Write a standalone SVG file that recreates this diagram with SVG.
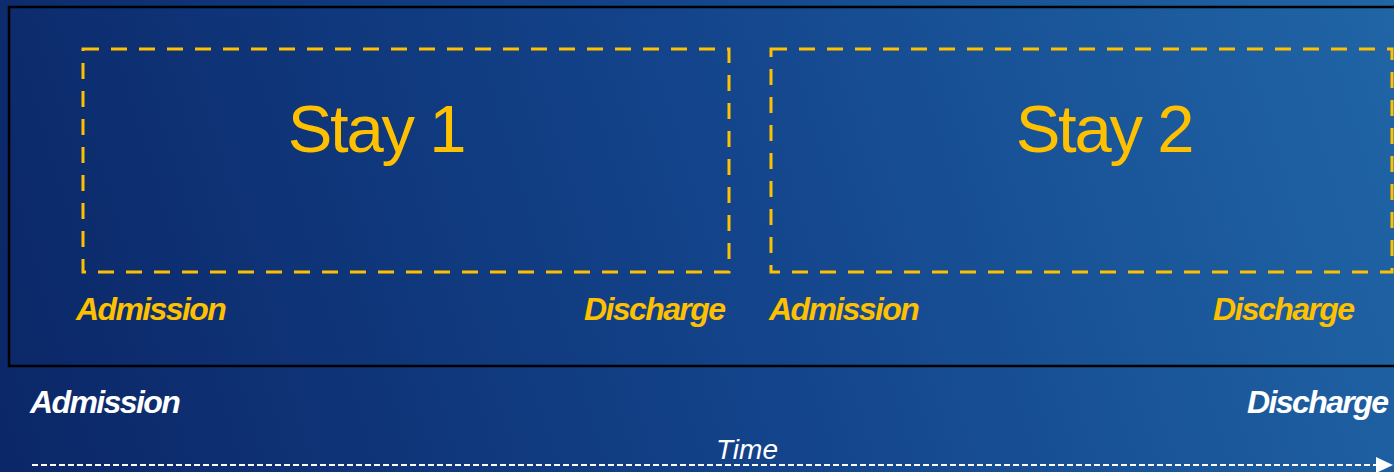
<svg xmlns="http://www.w3.org/2000/svg" width="1394" height="472" viewBox="0 0 1394 472">
<defs>
<linearGradient id="bg" gradientUnits="userSpaceOnUse" x1="0" y1="420" x2="1394" y2="0">
<stop offset="0" stop-color="#0b2767"/>
<stop offset="0.5" stop-color="#13438a"/>
<stop offset="1" stop-color="#2065a6"/>
</linearGradient>
<style>
.stay{fill:none;stroke:#ffc000;stroke-width:3;stroke-dasharray:16 12}
.big{font-family:"Liberation Sans",Arial,sans-serif;font-size:67px;fill:#ffc000;text-anchor:middle;letter-spacing:-2.2px}
.lbl{font-family:"Liberation Sans",Arial,sans-serif;font-size:32px;font-weight:bold;font-style:italic;letter-spacing:-1.6px}
.y{fill:#ffc000}
.w{fill:#ffffff}
</style>
</defs>
<rect x="0" y="0" width="1394" height="472" fill="url(#bg)"/>
<rect x="9" y="7" width="1400" height="359" fill="none" stroke="#000000" stroke-width="2.5"/>
<g id="stay1">
<rect class="stay" x="83" y="49" width="646" height="223"/>
<text class="big" x="376" y="152">Stay 1</text>
<text class="lbl y" x="76" y="320">Admission</text>
<text class="lbl y" x="584" y="320">Discharge</text>
</g>
<g id="stay2">
<rect class="stay" x="771" y="49" width="621" height="223"/>
<text class="big" x="1104" y="152">Stay 2</text>
<text class="lbl y" x="769" y="320">Admission</text>
<text class="lbl y" x="1213" y="320">Discharge</text>
</g>
<g id="overall">
<text class="lbl w" x="30" y="413">Admission</text>
<text class="lbl w" x="1247" y="413">Discharge</text>
<text x="747" y="459" font-family="Liberation Sans, Arial, sans-serif" font-size="28" font-style="italic" fill="#ffffff" text-anchor="middle">Time</text>
</g>
<g id="connectors">
<line x1="32" y1="465" x2="1378" y2="465" stroke="#ffffff" stroke-width="2" stroke-dasharray="6 3"/>
<path d="M1376,457 L1393,465 L1376,473 Z" fill="#ffffff"/>
</g>
</svg>
